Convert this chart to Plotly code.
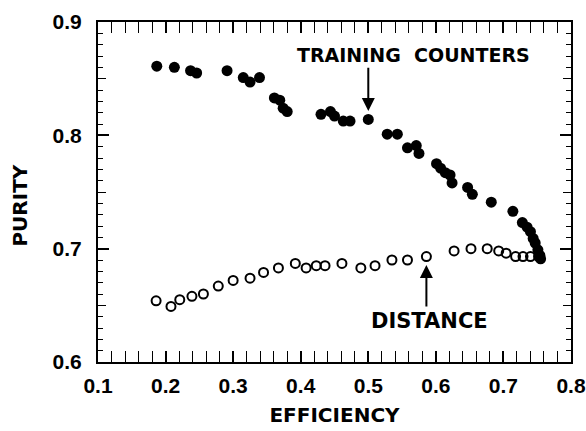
import plotly.graph_objects as go

# ---- data ----
training_eff = [0.187, 0.213, 0.237, 0.246, 0.291, 0.315, 0.325, 0.339, 0.361, 0.369,
                0.374, 0.380, 0.430, 0.444, 0.450, 0.463, 0.473, 0.500, 0.528, 0.543,
                0.558, 0.571, 0.575, 0.601, 0.607, 0.614, 0.621, 0.624, 0.647, 0.654,
                0.682, 0.714, 0.728, 0.735, 0.740, 0.744, 0.747, 0.751, 0.754, 0.755]
training_pur = [0.861, 0.860, 0.857, 0.855, 0.857, 0.851, 0.847, 0.851, 0.833, 0.831,
                0.824, 0.821, 0.8185, 0.821, 0.817, 0.8126, 0.8126, 0.814, 0.801, 0.801,
                0.789, 0.791, 0.784, 0.775, 0.771, 0.767, 0.765, 0.758, 0.754, 0.748,
                0.741, 0.733, 0.723, 0.719, 0.715, 0.709, 0.705, 0.699, 0.694, 0.691]

distance_eff = [0.186, 0.208, 0.221, 0.239, 0.256, 0.278, 0.300, 0.325, 0.345, 0.367,
                0.392, 0.408, 0.423, 0.436, 0.461, 0.489, 0.510, 0.535, 0.558, 0.586,
                0.627, 0.652, 0.676, 0.693, 0.704, 0.718, 0.729, 0.740, 0.752]
distance_pur = [0.654, 0.649, 0.655, 0.658, 0.660, 0.667, 0.672, 0.674, 0.679, 0.683,
                0.687, 0.683, 0.685, 0.685, 0.687, 0.683, 0.685, 0.690, 0.690, 0.693,
                0.698, 0.700, 0.700, 0.698, 0.696, 0.693, 0.693, 0.693, 0.693]

x_tick_vals = [0.1, 0.2, 0.3, 0.4, 0.5, 0.6, 0.7, 0.8]
y_tick_vals = [0.6, 0.7, 0.8, 0.9]
y_mid_tick_vals = [0.65, 0.75, 0.85]

x_title = "EFFICIENCY"
y_title = "PURITY"
label_training = "TRAINING&nbsp; COUNTERS"
label_distance = "DISTANCE"

# ---- figure ----
fig = go.Figure()
fig.add_trace(go.Scatter(
    x=training_eff, y=training_pur, mode="markers", name="Training counters",
    marker=dict(symbol="circle", size=11, color="black"),
))
fig.add_trace(go.Scatter(
    x=distance_eff, y=distance_pur, mode="markers", name="Distance",
    marker=dict(symbol="circle-open", size=9, color="black", line=dict(width=2, color="black")),
))

tick_font = dict(family="Liberation Sans", size=21, color="black", weight="bold")
title_font = dict(family="DejaVu Sans", size=20, color="black", weight="bold")

fig.update_layout(
    xaxis=dict(
        range=[x_tick_vals[0], x_tick_vals[-1]], tickmode="linear",
        tick0=x_tick_vals[0], dtick=round(x_tick_vals[1] - x_tick_vals[0], 6),
        ticks="inside", ticklen=11, tickwidth=1.5, tickcolor="black",
        minor=dict(dtick=0.02, ticks="inside", ticklen=6, tickwidth=1.2, tickcolor="black"),
        showline=True, linewidth=2, linecolor="black", mirror="allticks",
        showgrid=False, zeroline=False, tickfont=tick_font, ticklabelstandoff=4,
        title=dict(text=x_title, font=title_font, standoff=12),
    ),
    yaxis=dict(
        range=[y_tick_vals[0], y_tick_vals[-1]], tickmode="linear",
        tick0=y_tick_vals[0], dtick=round(y_tick_vals[1] - y_tick_vals[0], 6),
        ticks="inside", ticklen=11, tickwidth=1.5, tickcolor="black",
        minor=dict(dtick=0.01, ticks="inside", ticklen=5, tickwidth=1.2, tickcolor="black"),
        showline=True, linewidth=2, linecolor="black", mirror="allticks",
        showgrid=False, zeroline=False, tickfont=tick_font, ticklabelstandoff=10,
    ),
    yaxis2=dict(
        overlaying="y", side="left", range=[y_tick_vals[0], y_tick_vals[-1]],
        tickmode="array", tickvals=y_mid_tick_vals, showticklabels=False,
        ticks="inside", ticklen=8, tickwidth=1.3, tickcolor="black", mirror="allticks",
        showline=False, showgrid=False, zeroline=False,
    ),
)
# invisible helper trace so the mid-tick axis is drawn
fig.add_trace(go.Scatter(x=[None], y=[None], yaxis="y2", showlegend=False, hoverinfo="skip"))

annotations = [
    dict(text=y_title, xref="paper", yref="paper", x=-0.165, y=0.46, textangle=-90,
         showarrow=False, font=title_font, xanchor="center", yanchor="middle"),
    dict(text=label_training, x=0.567, y=0.871, xref="x", yref="y", showarrow=False,
         font=dict(family="DejaVu Sans", size=19, color="black", weight="bold")),
    dict(text=label_distance, x=0.591, y=0.636, xref="x", yref="y", showarrow=False,
         font=dict(family="DejaVu Sans", size=21, color="black", weight="bold")),
    dict(text="", x=0.5, y=0.8215, ax=0.5, ay=0.861, xref="x", yref="y", axref="x", ayref="y",
         showarrow=True, arrowhead=2, arrowsize=1.3, arrowwidth=2, arrowcolor="black"),
    dict(text="", x=0.586, y=0.6855, ax=0.586, ay=0.6476, xref="x", yref="y", axref="x", ayref="y",
         showarrow=True, arrowhead=2, arrowsize=1.3, arrowwidth=2, arrowcolor="black"),
]

fig.update_layout(
    width=586, height=431,
    margin=dict(l=98, r=15, t=22, b=69, autoexpand=False),
    paper_bgcolor="white", plot_bgcolor="white",
    showlegend=False, annotations=annotations,
)

fig.write_html("out.html", config={"displayModeBar": False},
               post_script="document.body.style.margin='0';")
